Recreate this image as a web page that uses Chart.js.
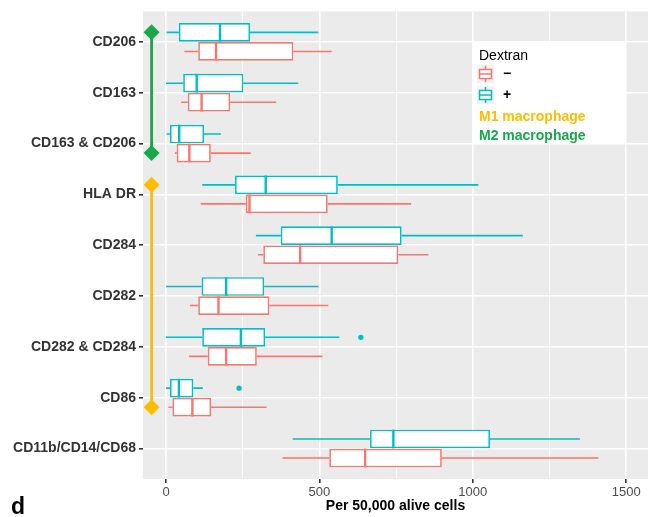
<!DOCTYPE html>
<html>
<head>
<meta charset="utf-8">
<script src="https://cdn.jsdelivr.net/npm/chart.js@4.4.1/dist/chart.umd.min.js"></script>
<style>
  body { margin: 0; background: #fff; }
  #wrap { width: 651px; height: 517px; position: relative; }
</style>
</head>
<body>
<div id="wrap"><canvas id="boxChart"></canvas></div>
<script>
const categories = ['CD206', 'CD163', 'CD163 & CD206', 'HLA DR', 'CD284', 'CD282', 'CD282 & CD284', 'CD86', 'CD11b/CD14/CD68']

// Dextran - (red boxes)
const minusLow = [60, 49, 29, 113, 300, 78, 75, 8, 380]
const minusQ1 = [105, 71, 35, 260, 317, 105, 136, 21, 532]
const minusMedian = [163, 116, 76, 272, 437, 171, 196, 86, 649]
const minusQ3 = [415, 209, 146, 527, 757, 337, 296, 147, 899]
const minusHigh = [540, 359, 276, 799, 855, 529, 510, 328, 1409]
const minusOutliers = [[], [], [], [], [], [], [], [], []]

// Dextran + (cyan boxes)
const plusLow = [2, 0, 2, 118, 293, 0, 0, 0, 413]
const plusQ1 = [42, 56, 13, 225, 374, 116, 118, 13, 665]
const plusMedian = [176, 100, 43, 325, 540, 196, 244, 42, 741]
const plusQ3 = [274, 252, 124, 560, 768, 320, 323, 89, 1056]
const plusHigh = [496, 431, 179, 1018, 1163, 497, 565, 120, 1349]
const plusOutliers = [[], [], [], [], [], [], [635], [238], []]

const xTicks = [0, 250, 500, 750, 1000, 1250, 1500]

const macrophageGroups = [
  { label: 'M1 macrophage', from: 'HLA DR', to: 'CD86', color: '#FFBC00' },
  { label: 'M2 macrophage', from: 'CD206', to: 'CD163 & CD206', color: '#17A84A' }
]

const FONT = "'Liberation Sans', Arial, sans-serif"
const RED = '#F8766D'
const CYAN = '#00BFC4'

// + comes first so it sits on top inside each category
const series = [
  { label: '+', color: CYAN, low: plusLow, q1: plusQ1, med: plusMedian, q3: plusQ3, high: plusHigh, out: plusOutliers },
  { label: '\u2212', color: RED, low: minusLow, q1: minusQ1, med: minusMedian, q3: minusQ3, high: minusHigh, out: minusOutliers }
]

const boxParts = {
  id: 'boxParts',
  beforeDraw(chart) {
    const { ctx, chartArea: a } = chart
    ctx.save()
    ctx.fillStyle = '#EBEBEB'
    ctx.fillRect(a.left, a.top, a.right - a.left, a.bottom - a.top)
    ctx.restore()
  },
  afterDatasetsDraw(chart) {
    const ctx = chart.ctx
    const xs = chart.scales.x
    ctx.save()
    series.forEach((s, di) => {
      const meta = chart.getDatasetMeta(di)
      ctx.strokeStyle = s.color
      ctx.fillStyle = s.color
      meta.data.forEach((bar, i) => {
        const y = bar.y
        const h = bar.height
        ctx.lineWidth = 1.6
        ctx.beginPath()
        ctx.moveTo(xs.getPixelForValue(s.low[i]), y)
        ctx.lineTo(xs.getPixelForValue(s.q1[i]), y)
        ctx.moveTo(xs.getPixelForValue(s.q3[i]), y)
        ctx.lineTo(xs.getPixelForValue(s.high[i]), y)
        ctx.stroke()
        ctx.lineWidth = 2.4
        const mx = xs.getPixelForValue(s.med[i])
        ctx.beginPath()
        ctx.moveTo(mx, y - h / 2)
        ctx.lineTo(mx, y + h / 2)
        ctx.stroke()
        s.out[i].forEach(v => {
          ctx.beginPath()
          ctx.arc(xs.getPixelForValue(v), y, 2.6, 0, Math.PI * 2)
          ctx.fill()
        })
      })
    })

    // macrophage brackets
    const bx = xs.getPixelForValue(-47)
    macrophageGroups.forEach(g => {
      const y1 = chart.getDatasetMeta(0).data[categories.indexOf(g.from)].y
      const y2 = chart.getDatasetMeta(1).data[categories.indexOf(g.to)].y
      ctx.strokeStyle = g.color
      ctx.fillStyle = g.color
      ctx.lineWidth = 2.8
      ctx.beginPath()
      ctx.moveTo(bx, y1)
      ctx.lineTo(bx, y2)
      ctx.stroke()
      ;[y1, y2].forEach(y => {
        ctx.beginPath()
        ctx.moveTo(bx, y - 8)
        ctx.lineTo(bx + 8, y)
        ctx.lineTo(bx, y + 8)
        ctx.lineTo(bx - 8, y)
        ctx.closePath()
        ctx.fill()
      })
    })
    ctx.restore()
  },
  afterDraw(chart) {
    const ctx = chart.ctx
    ctx.save()
    // legend box
    ctx.fillStyle = '#fff'
    ctx.fillRect(473, 42, 152, 102)
    ctx.textBaseline = 'middle'
    ctx.textAlign = 'left'
    ctx.fillStyle = '#000'
    ctx.font = '14px ' + FONT
    ctx.fillText('Dextran', 479, 56)
    const keys = [series[1], series[0]]
    keys.forEach((s, k) => {
      const cy = 74 + k * 21
      ctx.fillStyle = '#F2F2F2'
      ctx.fillRect(477, cy - 9, 17, 18)
      ctx.strokeStyle = s.color
      ctx.lineWidth = 1.5
      ctx.fillStyle = '#fff'
      ctx.fillRect(479.5, cy - 4.5, 12, 9)
      ctx.strokeRect(479.5, cy - 4.5, 12, 9)
      ctx.beginPath()
      ctx.moveTo(485.5, cy - 8)
      ctx.lineTo(485.5, cy - 4.5)
      ctx.moveTo(485.5, cy + 4.5)
      ctx.lineTo(485.5, cy + 8)
      ctx.moveTo(479.5, cy)
      ctx.lineTo(491.5, cy)
      ctx.stroke()
      ctx.fillStyle = '#000'
      ctx.font = 'bold 14px ' + FONT
      ctx.fillText(s.label, 503, cy)
    })
    ctx.font = 'bold 14px ' + FONT
    macrophageGroups.forEach((g, k) => {
      ctx.fillStyle = g.color
      ctx.fillText(g.label, 479, 117 + k * 19)
    })
    // panel letter
    ctx.fillStyle = '#000'
    ctx.font = 'bold 23px ' + FONT
    ctx.textBaseline = 'alphabetic'
    ctx.fillText('d', 11, 514)
    ctx.restore()
  }
}

new Chart(document.getElementById('boxChart'), {
  type: 'bar',
  data: {
    datasets: series.map(s => ({
      label: s.label,
      data: categories.map((c, i) => ({ y: i, x: [s.q1[i], s.q3[i]] })),
      backgroundColor: '#fff',
      borderColor: s.color,
      borderWidth: 1.7,
      borderSkipped: false,
      categoryPercentage: 0.75,
      barPercentage: 0.98
    }))
  },
  options: {
    indexAxis: 'y',
    responsive: true,
    maintainAspectRatio: false,
    animation: false,
    events: [],
    layout: { padding: { top: 11, right: 3, left: 0, bottom: 0 } },
    plugins: {
      legend: { display: false },
      tooltip: { enabled: false }
    },
    scales: {
      x: {
        type: 'linear',
        min: -75,
        max: 1571,
        afterBuildTicks: s => { s.ticks = xTicks.map(v => ({ value: v })) },
        afterFit: s => { s.height = 38 },
        border: { display: false },
        grid: {
          color: '#fff',
          lineWidth: c => (c.tick && c.tick.value % 500 === 0 ? 1.6 : 0.8),
          tickColor: c => (c.tick && c.tick.value % 500 === 0 ? '#333' : 'rgba(0,0,0,0)'),
          tickLength: 4
        },
        ticks: {
          autoSkip: false,
          maxRotation: 0,
          padding: 2,
          color: '#4D4D4D',
          font: { family: FONT, size: 13 },
          callback: v => (v % 500 === 0 ? String(v) : '')
        },
        title: {
          display: true,
          text: 'Per 50,000 alive cells',
          color: '#000',
          font: { family: FONT, size: 14, weight: 'bold' },
          padding: { top: 0, bottom: 2 }
        }
      },
      y: {
        type: 'linear',
        min: -0.6,
        max: categories.length - 0.4,
        reverse: true,
        offset: false,
        afterBuildTicks: s => { s.ticks = categories.map((c, i) => ({ value: i })) },
        afterFit: s => { s.width = 143 },
        border: { display: false },
        grid: { offset: false, color: '#fff', lineWidth: 1.6, tickColor: '#333', tickLength: 4 },
        ticks: {
          autoSkip: false,
          padding: 3,
          color: '#333',
          font: { family: FONT, size: 14, weight: 'bold' },
          callback: v => categories[v]
        }
      }
    }
  },
  plugins: [boxParts]
})
</script>
</body>
</html>
